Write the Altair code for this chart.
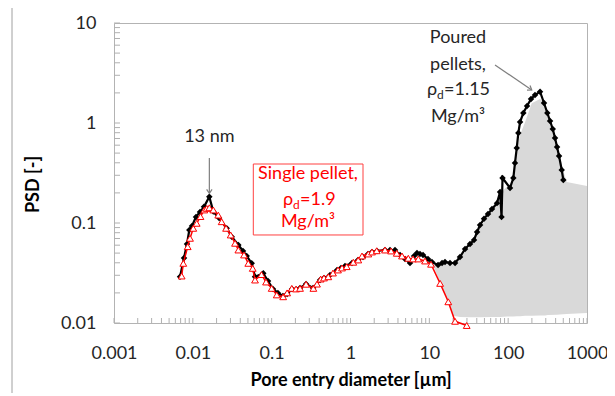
import altair as alt
import pandas as pd

# ---------------- data ----------------
# Poured pellets (black diamonds)
poured_d = [0.00688, 0.00773, 0.00843, 0.00902, 0.00976, 0.01097, 0.01233, 0.01386, 0.01618, 0.01818,
            0.0215, 0.0269, 0.0311, 0.0378, 0.0433, 0.0482, 0.0558, 0.0615, 0.0783, 0.0899,
            0.104, 0.120, 0.139, 0.157, 0.181, 0.229, 0.273, 0.335, 0.411, 0.461,
            0.550, 0.675, 0.758, 0.852, 1.045, 1.246, 1.441, 1.668, 1.875, 2.17,
            2.74, 3.17, 3.67, 4.25, 4.92, 5.69, 6.40, 6.98, 7.62, 8.32,
            9.62, 10.8, 12.9, 14.5, 15.8, 18.3, 21.2, 24.5, 28.4, 32.8,
            36.9, 40.3, 44.0, 49.4, 55.5, 62.4, 72.2, 78.9, 82.4, 84.8,
            105.6, 116.3, 122, 128.4, 134.6, 141.5, 155.7, 173.5, 195, 219,
            253.7, 285, 314, 340, 368, 393, 417, 442, 478, 501]
poured_psd = [0.0290, 0.0447, 0.0617, 0.0851, 0.0933, 0.115, 0.129, 0.145, 0.183, 0.130,
              0.112, 0.0885, 0.0729, 0.0603, 0.0525, 0.0468, 0.0395, 0.0290, 0.0314, 0.0263,
              0.0219, 0.0200, 0.0186, 0.0195, 0.0219, 0.0224, 0.0245, 0.0224, 0.0269, 0.0282,
              0.0302, 0.0339, 0.0355, 0.0372, 0.0398, 0.0427, 0.0457, 0.0490, 0.0513, 0.0525,
              0.0537, 0.0537, 0.0537, 0.0479, 0.0437, 0.0398, 0.0468, 0.0501, 0.0490, 0.0479,
              0.0437, 0.0407, 0.0380, 0.0398, 0.0407, 0.0398, 0.0398, 0.0457, 0.0550, 0.0617,
              0.0676, 0.0813, 0.0955, 0.110, 0.123, 0.138, 0.158, 0.204, 0.115, 0.282,
              0.224, 0.282, 0.398, 0.562, 0.794, 1.023, 1.259, 1.479, 1.738, 1.905,
              2.056, 1.585, 1.259, 1.047, 0.871, 0.708, 0.575, 0.468, 0.339, 0.269]

# Single pellet (red open triangles)
single_d = [0.00722, 0.00757, 0.00861, 0.00921, 0.01014, 0.01119, 0.01251, 0.01398, 0.0150, 0.01618,
            0.01818, 0.0210, 0.0232, 0.0264, 0.0302, 0.0343, 0.0378, 0.0446, 0.0505, 0.0575,
            0.0615, 0.0743, 0.0848, 0.100, 0.116, 0.140, 0.157, 0.180, 0.204, 0.229,
            0.273, 0.338, 0.376, 0.419, 0.461, 0.523, 0.600, 0.694, 0.781, 0.895,
            1.086, 1.256, 1.400, 1.683, 1.875, 2.15, 2.74, 3.27, 3.86, 4.50,
            5.41, 6.21, 7.25, 8.82, 10.5, 13.7, 17.4, 21.2, 29.8]
single_psd = [0.0295, 0.0395, 0.0580, 0.0703, 0.0885, 0.0993, 0.116, 0.135, 0.140, 0.142,
              0.135, 0.120, 0.103, 0.0885, 0.0759, 0.0627, 0.0537, 0.0479, 0.0395, 0.0352,
              0.0269, 0.0305, 0.0257, 0.0222, 0.0191, 0.0183, 0.0200, 0.0222, 0.0219, 0.0222,
              0.0244, 0.0222, 0.0245, 0.0275, 0.0282, 0.0290, 0.0316, 0.0339, 0.0355, 0.0366,
              0.0405, 0.0427, 0.0468, 0.0490, 0.0513, 0.0528, 0.0537, 0.0525, 0.0498, 0.0468,
              0.0444, 0.0437, 0.0437, 0.0417, 0.0387, 0.0249, 0.0163, 0.0104, 0.00944]

# Grey shaded region (upper and lower edges)
grey_d = [10.7, 13.7, 17.3, 20.0, 24.5, 32.8, 44.0, 58.9, 78.9, 96.8, 116,
          128.4, 141.5, 163.7, 199, 253.7, 293, 320, 413, 497, 553, 1000]
grey_upper = [0.041, 0.038, 0.039, 0.040, 0.045, 0.058, 0.090, 0.125, 0.20, 0.23, 0.27,
              0.54, 0.76, 1.02, 1.58, 1.74, 1.58, 1.12, 0.63, 0.339, 0.257, 0.234]
grey_lower = [0.041, 0.0255, 0.0160, 0.0118, 0.0115, 0.0114, 0.0114, 0.0115, 0.0115, 0.0116, 0.0116,
              0.0117, 0.0117, 0.0118, 0.0118, 0.0119, 0.0119, 0.0120, 0.0121, 0.0122, 0.0123, 0.0126]

x_major = [0.001, 0.01, 0.1, 1, 10, 100, 1000]
y_major = [0.01, 0.1, 1, 10]
x_ticks = [m * 10.0 ** e for e in range(-3, 3) for m in range(1, 10)] + [1000]
y_ticks = [m * 10.0 ** e for e in range(-2, 1) for m in range(1, 10)] + [10]

FONT = "Lato"
TXT = "#262626"
AX = "#b0b0b0"

xscale = alt.Scale(type="log", domain=[0.001, 1000], nice=False)
yscale = alt.Scale(type="log", domain=[0.01, 10], nice=False)

xaxis = alt.Axis(values=x_major, format="~g", grid=False, ticks=False, tickSize=0, domain=False,
                 labelFont=FONT, labelFontSize=18, labelColor=TXT, labelPadding=35,
                 labelBaseline="alphabetic", labelFlush=False,
                 title="Pore entry diameter [µm]", titleFont=FONT, titleFontSize=18,
                 titleFontWeight="bold", titleColor="#000000", titleY=62,
                 titleBaseline="alphabetic")
yaxis = alt.Axis(values=y_major, format="~g", grid=False, ticks=False, tickSize=0, domain=False,
                 labelFont=FONT, labelFontSize=18, labelColor=TXT, labelPadding=18,
                 labelFlush=False,
                 title="PSD [-]", titleFont=FONT, titleFontSize=18, titleFontWeight="bold",
                 titleColor="#000000", titleX=-81, titleY=161, titleAngle=270,
                 titleAlign="center", titleBaseline="middle")


def X(f):
    return alt.X(f, type="quantitative", scale=xscale, axis=xaxis)


def Y(f):
    return alt.Y(f, type="quantitative", scale=yscale, axis=yaxis)


poured = pd.DataFrame({"d": poured_d, "psd": poured_psd})
single = pd.DataFrame({"d": single_d, "psd": single_psd})
grey = pd.DataFrame({"d": grey_d, "up": grey_upper, "lo": grey_lower})

area = alt.Chart(grey).mark_area(color="#d9d9d9", opacity=1).encode(
    x=X("d"), y=Y("up"), y2="lo")

p_line = alt.Chart(poured).mark_line(color="#000000", strokeWidth=2.2).encode(x=X("d"), y=Y("psd"))
p_pts = alt.Chart(poured).mark_point(shape="diamond", filled=True, color="#000000", size=42,
                                     opacity=1).encode(x=X("d"), y=Y("psd"))
s_line = alt.Chart(single).mark_line(color="#ff0000", strokeWidth=1.5).encode(x=X("d"), y=Y("psd"))
s_pts = alt.Chart(single).mark_point(shape="triangle-up", filled=True, fill="#ffffff",
                                     stroke="#ff0000", strokeWidth=1, size=46, opacity=1).encode(
    x=X("d"), y=Y("psd"))

# inward axis ticks
xt = alt.Chart(pd.DataFrame({"v": x_ticks})).mark_rule(color=AX, strokeWidth=1).encode(
    x=X("v"), y=alt.value(300), y2=alt.value(295))
yt = alt.Chart(pd.DataFrame({"v": y_ticks})).mark_rule(color=AX, strokeWidth=1).encode(
    y=Y("v"), x=alt.value(0), x2=alt.value(6))

# left border line of the original figure
edge = alt.Chart(pd.DataFrame({"a": [0]})).mark_rule(color="#a0a0a0", strokeWidth=1).encode(
    x=alt.value(-102), y=alt.value(-16), y2=alt.value(370))

# ---------------- annotations ----------------
ARROW = "#7f7f7f"
vpath = "M-0.7,-1L0,0L0.7,-1"

a13_line = alt.Chart(pd.DataFrame({"x": [0.0162], "y": [0.447], "y2": [0.200]})).mark_rule(
    color=ARROW, strokeWidth=1.2).encode(x=X("x"), y=Y("y"), y2="y2")
a13_head = alt.Chart(pd.DataFrame({"x": [0.0162], "y": [0.198]})).mark_point(
    shape=vpath, filled=False, stroke=ARROW, strokeWidth=1.2, size=60, opacity=1).encode(
    x=X("x"), y=Y("y"))
a13_txt = alt.Chart(pd.DataFrame({"x": [0.0162], "y": [0.72], "t": ["13 nm"]})).mark_text(
    font=FONT, fontSize=18, color=TXT, baseline="middle").encode(x=X("x"), y=Y("y"), text="t")

box = alt.Chart(pd.DataFrame({"x": [0.0585], "x2": [1.441], "y": [0.389], "y2": [0.0759]})).mark_rect(
    fill="#ffffff", stroke="#ff4040", strokeWidth=1).encode(x=X("x"), x2="x2", y=Y("y"), y2="y2")

RED = "#ff0000"
s_txt = alt.Chart(pd.DataFrame({"x": [0.289, 0.289], "y": [0.309, 0.102],
                                "t": ["Single pellet,", "Mg/m³"]})).mark_text(
    font=FONT, fontSize=18, color=RED, baseline="middle").encode(x=X("x"), y=Y("y"), text="t")
s_rho = alt.Chart(pd.DataFrame({"x": [0.289], "y": [0.170], "t": ["ρ"]})).mark_text(
    font=FONT, fontSize=18, color=RED, baseline="middle", align="left", dx=-25).encode(
    x=X("x"), y=Y("y"), text="t")
s_sub = alt.Chart(pd.DataFrame({"x": [0.289], "y": [0.170], "t": ["d"]})).mark_text(
    font=FONT, fontSize=12, color=RED, baseline="middle", align="left", dx=-15, dy=5).encode(
    x=X("x"), y=Y("y"), text="t")
s_val = alt.Chart(pd.DataFrame({"x": [0.289], "y": [0.170], "t": ["=1.9"]})).mark_text(
    font=FONT, fontSize=18, color=RED, baseline="middle", align="left", dx=-8).encode(
    x=X("x"), y=Y("y"), text="t")

p_txt = alt.Chart(pd.DataFrame({"x": [23.1, 23.1, 23.1], "y": [7.08, 3.80, 1.15],
                                "t": ["Poured", "pellets,", "Mg/m³"]})).mark_text(
    font=FONT, fontSize=18, color=TXT, baseline="middle").encode(x=X("x"), y=Y("y"), text="t")
p_rho = alt.Chart(pd.DataFrame({"x": [23.1], "y": [2.14], "t": ["ρ"]})).mark_text(
    font=FONT, fontSize=18, color=TXT, baseline="middle", align="left", dx=-31).encode(
    x=X("x"), y=Y("y"), text="t")
p_sub = alt.Chart(pd.DataFrame({"x": [23.1], "y": [2.14], "t": ["d"]})).mark_text(
    font=FONT, fontSize=12, color=TXT, baseline="middle", align="left", dx=-21, dy=5).encode(
    x=X("x"), y=Y("y"), text="t")
p_val = alt.Chart(pd.DataFrame({"x": [23.1], "y": [2.14], "t": ["=1.15"]})).mark_text(
    font=FONT, fontSize=18, color=TXT, baseline="middle", align="left", dx=-14).encode(
    x=X("x"), y=Y("y"), text="t")

ap_line = alt.Chart(pd.DataFrame({"x": [68.1], "x2": [199], "y": [3.80], "y2": [2.14]})).mark_rule(
    color=ARROW, strokeWidth=1.2).encode(x=X("x"), x2="x2", y=Y("y"), y2="y2")
ap_head = alt.Chart(pd.DataFrame({"x": [199], "y": [2.14]})).mark_point(
    shape=vpath, filled=False, stroke=ARROW, strokeWidth=1.2, size=60, opacity=1,
    angle=304).encode(x=X("x"), y=Y("y"))

chart = alt.layer(
    area, xt, yt, edge, p_line, p_pts, s_line, s_pts,
    a13_line, a13_head, a13_txt, box, s_txt, s_rho, s_sub, s_val,
    p_txt, p_rho, p_sub, p_val, ap_line, ap_head
).properties(
    width=473, height=300,
    autosize=alt.AutoSizeParams(type="none"),
    padding={"left": 106, "top": 15, "right": 20, "bottom": 72},
    background="#ffffff"
).configure_view(stroke="#b3b3b3", strokeWidth=1)

chart.save("out.html", embed_options={"renderer": "svg", "actions": False})
